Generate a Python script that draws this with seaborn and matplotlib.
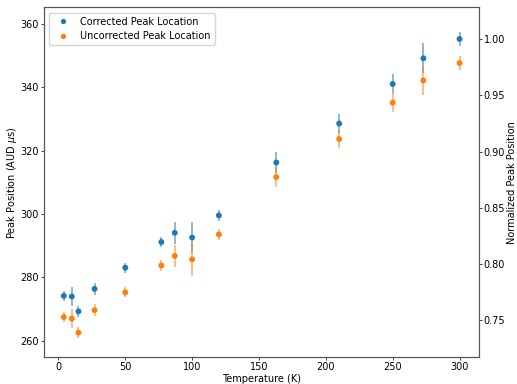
import matplotlib
matplotlib.use("Agg")
import matplotlib.pyplot as plt
import seaborn as sns
import pandas as pd
import numpy as np

temperature = [4, 10, 15, 27, 50, 77, 87, 100, 120, 163, 210, 250, 273, 300]
corrected = [274.2, 274.0, 269.3, 276.4, 283.1, 291.2, 294.1, 292.6, 299.6, 316.3, 328.6, 341.1, 349.2, 355.3]
corrected_err = [1.6, 3.1, 1.8, 1.8, 1.6, 1.7, 3.5, 5.0, 1.7, 3.2, 3.0, 3.0, 4.8, 2.2]
uncorrected = [267.5, 267.0, 262.6, 269.7, 275.3, 283.8, 286.8, 285.7, 293.6, 311.7, 323.7, 335.2, 342.2, 347.7]
uncorrected_err = [1.7, 3.0, 1.8, 1.8, 1.6, 1.8, 3.4, 5.1, 1.7, 3.2, 2.9, 3.0, 4.7, 2.2]

labels = ["Corrected Peak Location", "Uncorrected Peak Location"]
colors = ["#1f77b4", "#ff7f0e"]
xticks = [0, 50, 100, 150, 200, 250, 300]
yticks = [260, 280, 300, 320, 340, 360]
norm_ticks = [0.75, 0.80, 0.85, 0.90, 0.95, 1.00]

df = pd.DataFrame({
    "T": temperature * 2,
    "P": corrected + uncorrected,
    "err": corrected_err + uncorrected_err,
    "series": [labels[0]] * len(temperature) + [labels[1]] * len(temperature),
})

FS = 7.0
plt.rcParams["font.size"] = FS
plt.rcParams["legend.fontsize"] = FS

fig, ax = plt.subplots(figsize=(5.17, 3.84), dpi=100)
fig.subplots_adjust(left=44 / 517, right=479.3 / 517, bottom=1 - 357.3 / 384, top=1 - 7.3 / 384)

for lab, col in zip(labels, colors):
    sub = df[df["series"] == lab]
    ax.errorbar(sub["T"], sub["P"], yerr=sub["err"], fmt="none",
                ecolor=col, elinewidth=1.2, alpha=0.6, zorder=2)

sns.scatterplot(data=df, x="T", y="P", hue="series", palette=colors,
                s=18, edgecolor="none", ax=ax, zorder=3)

ax.set_xlabel("Temperature (K)", fontsize=FS, labelpad=1.0)
ax.set_ylabel("Peak Position (AUD $\\mu$s)", fontsize=FS, labelpad=1.0)
ax.set_xlim(-10.8, 314.8)
ax.set_ylim(254.8, 365.3)
ax.set_xticks(xticks)
ax.set_yticks(yticks)
ax.tick_params(labelsize=FS, length=2.2, pad=1.5, width=0.7, color="#444444")
for sp in ax.spines.values():
    sp.set_linewidth(0.8)
    sp.set_color("#555555")

leg = ax.legend(loc="upper left", borderaxespad=0.55, markerscale=0.9)
leg.set_title(None)

norm = corrected[-1]
ax2 = ax.twinx()
lo, hi = ax.get_ylim()
ax2.set_ylim(lo / norm, hi / norm)
ax2.set_yticks(norm_ticks)
ax2.set_yticklabels([f"{v:.2f}" for v in norm_ticks])
ax2.set_ylabel("Normalized Peak Position", fontsize=FS, labelpad=1.5)
ax2.tick_params(labelsize=FS, length=2.2, pad=1.0, width=0.7, color="#444444")
for sp in ax2.spines.values():
    sp.set_linewidth(0.8)
    sp.set_color("#555555")

fig.savefig("out.png", dpi=100)
